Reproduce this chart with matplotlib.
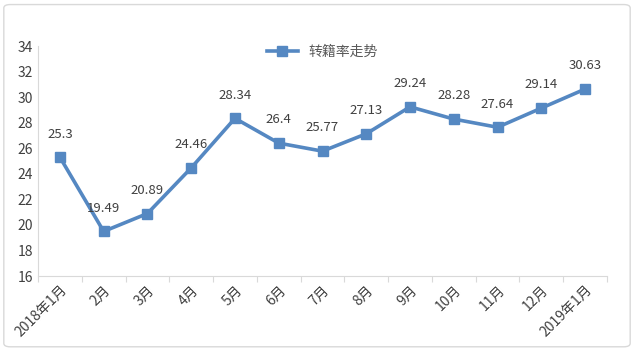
import matplotlib.pyplot as plt
from matplotlib.patches import FancyBboxPatch

plt.rcParams['font.family'] = ['Noto Sans CJK SC', 'DejaVu Sans']

months = ["2018年1月", "2月", "3月", "4月", "5月", "6月", "7月",
          "8月", "9月", "10月", "11月", "12月", "2019年1月"]
rate = [25.3, 19.49, 20.89, 24.46, 28.34, 26.4, 25.77,
        27.13, 29.24, 28.28, 27.64, 29.14, 30.63]
labels = ["25.3", "19.49", "20.89", "24.46", "28.34", "26.4", "25.77",
          "27.13", "29.24", "28.28", "27.64", "29.14", "30.63"]

fig = plt.figure(figsize=(6.34, 3.51), dpi=100)
ax = fig.add_axes([38/634, 75/351, 569/634, 230/351])

# outer frame like the excel chart area
fig.patches.append(FancyBboxPatch((0.006, 0.012), 0.988, 0.975, boxstyle="round,pad=0,rounding_size=0.01",
                                  transform=fig.transFigure, fill=False, ec='#d9d9d9', lw=1))

x = list(range(len(months)))
line_c = '#5588c2'
ax.plot(x, rate, color=line_c, lw=2.6, marker='s', ms=7, label='转籍率走势', zorder=3)

for xi, yi, t in zip(x, rate, labels):
    ax.annotate(t, (xi, yi), xytext=(0, 12), textcoords='offset points',
                ha='center', va='bottom', fontsize=9.5, color='#404040')

ax.set_xlim(-0.5, 12.5)
ax.set_ylim(16, 34)
ax.set_yticks(range(16, 35, 2))
ax.set_xticks([i + 0.5 for i in range(-1, 13)], minor=False)
ax.set_xticklabels([])
ax.set_xticks(x, minor=True)
ax.set_xticklabels(months, minor=True, rotation=45, ha='right', rotation_mode='anchor',
                   fontsize=10, color='#404040')
ax.tick_params(axis='x', which='major', length=4, color='#d9d9d9')
ax.tick_params(axis='x', which='minor', length=0, pad=5)
ax.tick_params(axis='y', length=0, labelsize=10, labelcolor='#404040')

for s in ['top', 'right']:
    ax.spines[s].set_visible(False)
for s in ['left', 'bottom']:
    ax.spines[s].set_color('#d9d9d9')

ax.legend(loc='upper center', bbox_to_anchor=(0.5, 1.06), frameon=False, fontsize=10,
          labelcolor='#595959', handlelength=2.2)

fig.savefig('out.png', dpi=100)
